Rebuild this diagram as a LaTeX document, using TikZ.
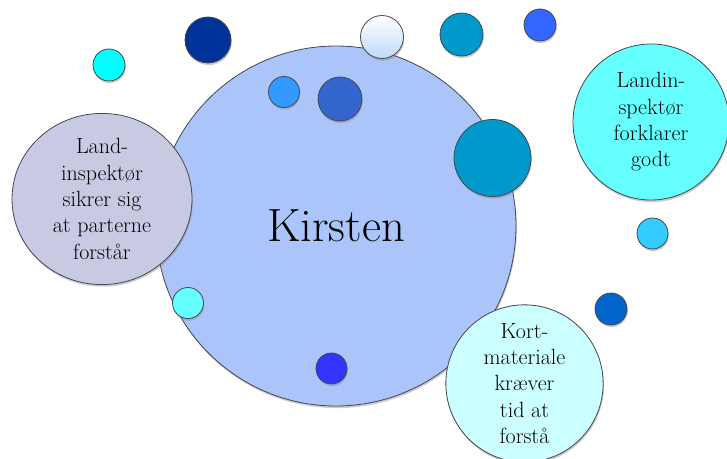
\documentclass[tikz,border=0pt]{standalone}
\usetikzlibrary{shapes.geometric,shadows}
\definecolor{mainblue}{RGB}{171,197,250}
\definecolor{graylilac}{RGB}{200,202,228}
\definecolor{cyanA}{RGB}{102,255,255}
\definecolor{cyanB}{RGB}{204,255,255}
\definecolor{cyanC}{RGB}{0,255,255}
\definecolor{navyA}{RGB}{0,51,153}
\definecolor{blueA}{RGB}{51,153,255}
\definecolor{blueB}{RGB}{51,102,204}
\definecolor{paleA}{RGB}{190,218,248}
\definecolor{tealA}{RGB}{0,153,204}
\definecolor{royalA}{RGB}{51,102,255}
\definecolor{skyA}{RGB}{51,204,255}
\definecolor{darkA}{RGB}{0,102,204}
\definecolor{blueC}{RGB}{51,51,255}
\definecolor{edgegray}{RGB}{70,70,80}
\tikzset{
  ball/.style={circle, draw=edgegray, line width=0.6pt, inner sep=0pt,
    drop shadow={opacity=0.4, shadow xshift=0.6pt, shadow yshift=-1.6pt}},
  bigtxt/.style={align=center, font=\fontsize{16.5}{19.8}\selectfont, text=black},
}
\begin{document}
\begin{tikzpicture}[x=0.75pt,y=-0.75pt]
\useasboundingbox (0,0) rectangle (727,459);
% main circle
\node[ball, fill=mainblue, minimum size=270pt, font=\fontsize{35}{40}\selectfont] (kirsten) at (336,226) {Kirsten};
% text bubbles
\node[ball, ellipse, fill=graylilac, minimum width=135pt, minimum height=127.5pt, bigtxt] (left) at (102,199)
  {Land-\\inspektør\\sikrer sig\\at parterne\\forstår};
\node[ball, fill=cyanA, minimum size=117pt, bigtxt] (right) at (651,122)
  {Landin-\\spektør\\forklarer\\godt};
\node[ball, fill=cyanB, minimum size=118pt, bigtxt] (bottom) at (524.5,383.5)
  {Kort-\\materiale\\kræver\\tid at\\forstå};
% small circles
\node[ball, fill=cyanC, minimum size=24pt] (c1) at (109,65) {};
\node[ball, fill=navyA, minimum size=34.5pt] (c2) at (208,40) {};
\node[ball, fill=blueA, minimum size=23.25pt] (c3) at (284,92) {};
\node[ball, fill=blueB, minimum size=33pt] (c4) at (340,99) {};
\node[ball, top color=white, bottom color=paleA, minimum size=32.25pt] (c5) at (382,37) {};
\node[ball, fill=tealA, minimum size=32.25pt] (c6) at (461.5,34.5) {};
\node[ball, fill=royalA, minimum size=24pt] (c7) at (540,25) {};
\node[ball, fill=tealA, minimum size=57.75pt] (c8) at (492.5,158) {};
\node[ball, fill=skyA, minimum size=23.25pt] (c9) at (652.5,233.5) {};
\node[ball, fill=darkA, minimum size=24pt] (c10) at (611,309) {};
\node[ball, fill=cyanA, minimum size=23.25pt] (c11) at (188,303) {};
\node[ball, fill=blueC, minimum size=23.25pt] (c12) at (331.5,368.5) {};
\end{tikzpicture}
\end{document}
